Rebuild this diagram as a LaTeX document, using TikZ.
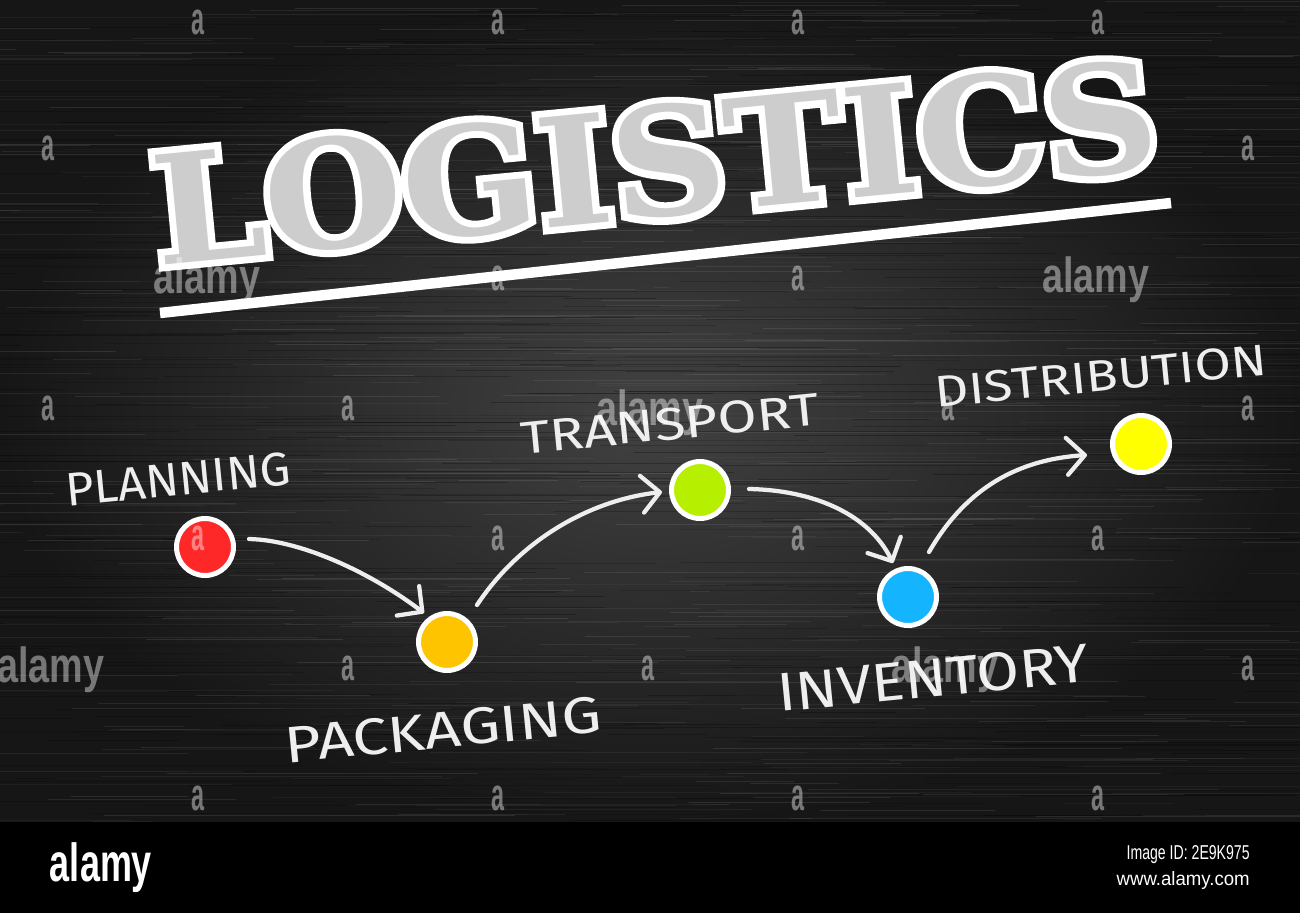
\documentclass[tikz,border=0pt]{standalone}
\usepackage{fontspec}
\usetikzlibrary{arrows.meta,calc}
\newfontfamily\titlefont{DejaVu Serif}
\newfontfamily\titlefat{DejaVu Serif}[BoldFeatures={FakeBold=9}]
\newfontfamily\chalkfont{Fira Sans}
\newfontfamily\wmfont{Liberation Sans}
\newdimen\pxu \pxu=0.02cm
\definecolor{bgin}{RGB}{66,66,66}
\definecolor{bgout}{RGB}{22,22,22}
\definecolor{chalk}{RGB}{238,238,238}
\definecolor{titlec}{RGB}{205,205,205}
\definecolor{redc}{RGB}{255,40,40}\definecolor{redd}{RGB}{170,0,0}
\definecolor{orac}{RGB}{255,196,0}\definecolor{orad}{RGB}{205,130,0}
\definecolor{grec}{RGB}{182,240,0}\definecolor{gred}{RGB}{105,150,0}
\definecolor{bluc}{RGB}{20,180,255}\definecolor{blud}{RGB}{0,95,190}
\definecolor{yelc}{RGB}{255,255,0}\definecolor{yeld}{RGB}{185,170,0}
\pgfdeclareradialshading{redball}{\pgfpoint{0bp}{0bp}}{color(0bp)=(redc); color(26bp)=(redc); color(46bp)=(redd); color(50bp)=(redd)}
\pgfdeclareradialshading{oraball}{\pgfpoint{0bp}{0bp}}{color(0bp)=(orac); color(26bp)=(orac); color(46bp)=(orad); color(50bp)=(orad)}
\pgfdeclareradialshading{greball}{\pgfpoint{0bp}{0bp}}{color(0bp)=(grec); color(26bp)=(grec); color(46bp)=(gred); color(50bp)=(gred)}
\pgfdeclareradialshading{bluball}{\pgfpoint{0bp}{0bp}}{color(0bp)=(bluc); color(26bp)=(bluc); color(46bp)=(blud); color(50bp)=(blud)}
\pgfdeclareradialshading{yelball}{\pgfpoint{0bp}{0bp}}{color(0bp)=(yelc); color(26bp)=(yelc); color(46bp)=(yeld); color(50bp)=(yeld)}
\newcommand{\chalktext}[3]{\resizebox{#1\pxu}{#2\pxu}{\chalkfont #3}}
\newcommand{\wmsmall}{\resizebox*{13\pxu}{25\pxu}{\wmfont\bfseries a}}
\newcommand{\wmbig}{\resizebox*{107\pxu}{46\pxu}{\wmfont\bfseries alamy}}
\begin{document}
\begin{tikzpicture}[x=0.02cm,y=-0.02cm,
  chalklabel/.style={text=chalk, inner sep=0pt, rotate=5.6},
  titlenode/.style={inner sep=0pt, rotate=5.5},
  dot/.style={circle, draw=white, line width=0.1cm, minimum size=1.14cm, inner sep=0pt},
  arrowline/.style={draw=chalk, line width=0.085cm, line cap=round,
     -{Straight Barb[length=0.36cm, width=0.74cm, line cap=round, line join=round]}},
  wm/.style={text=white, text opacity=0.42, inner sep=0pt}]
\useasboundingbox (0,0) rectangle (1300,913);
% background
\shade[inner color=bgin, outer color=bgout] (0,0) rectangle (1300,822);
\begin{scope}
\clip (0,0) rectangle (1300,822);
\pgfmathsetseed{4242}
\foreach \i in {1,...,500}{
  \pgfmathsetmacro\yy{rnd*822}
  \pgfmathsetmacro\xx{rnd*1400-150}
  \pgfmathsetmacro\ll{60+rnd*380}
  \pgfmathsetmacro\oo{0.03+0.07*rnd}
  \draw[white, line width=0.35pt, opacity=\oo] (\xx,\yy) -- ++(\ll,0);
}
\foreach \i in {1,...,500}{
  \pgfmathsetmacro\yy{rnd*822}
  \pgfmathsetmacro\xx{rnd*1400-150}
  \pgfmathsetmacro\ll{60+rnd*380}
  \pgfmathsetmacro\oo{0.10+0.18*rnd}
  \draw[black, line width=0.45pt, opacity=\oo] (\xx,\yy) -- ++(\ll,0);
}
\end{scope}
% bottom bar
\fill[black] (0,822) rectangle (1300,913);
% title: white emboldened copy under a grey copy gives a chalk outline
\coordinate (tc) at (655,162);
\node[titlenode, text=white] (titleout) at (tc)
  {\resizebox{1008\pxu}{112\pxu}{\titlefat\bfseries LOGISTICS}};
\node[titlenode, text=titlec] (title) at (tc)
  {\resizebox{1008\pxu}{112\pxu}{\titlefont\bfseries LOGISTICS}};
\coordinate (ulA) at (160,313);
\coordinate (ulB) at (1171,203);
\draw[white, line width=0.21cm] (ulA) -- (ulB);
% circles
\node[dot, shading=redball] (planning) at (205,547) {};
\node[dot, shading=oraball] (packaging) at (447,642) {};
\node[dot, shading=greball] (transport) at (700,490) {};
\node[dot, shading=bluball] (inventory) at (908,597) {};
\node[dot, shading=yelball] (distribution) at (1141,444) {};
% labels
\node[chalklabel] (lplan) at (178,479) {\chalktext{226}{33}{PLANNING}};
\node[chalklabel] (lpack) at (443,730) {\chalktext{318}{36}{PACKAGING}};
\node[chalklabel] (ltrans) at (670,424) {\chalktext{300}{32}{TRANSPORT}};
\node[chalklabel] (ldist) at (1101,376) {\chalktext{333}{31}{DISTRIBUTION}};
\node[chalklabel] (linv) at (933,678) {\chalktext{313}{38}{INVENTORY}};
% arrows
\coordinate (s1) at (249,539); \coordinate (t1) at (424,613);
\coordinate (s2) at (477,605); \coordinate (t2) at (662,492);
\coordinate (s3) at (749,489); \coordinate (t3) at (893,563);
\coordinate (s4) at (929,552); \coordinate (t4) at (1087,455);
\draw[arrowline] (s1) .. controls (300,540) and (370,572) .. (t1);
\draw[arrowline] (s2) .. controls (520,540) and (590,500) .. (t2);
\draw[arrowline] (s3) .. controls (810,490) and (868,512) .. (t3);
\draw[arrowline] (s4) .. controls (962,495) and (1010,460) .. (t4);
% watermark overlay
\foreach \x in {198,498,798,1098}{
  \node[wm] at (\x,22) {\wmsmall};
  \node[wm] at (\x,798) {\wmsmall};
}
\foreach \x in {48,1248}{ \node[wm] at (\x,148) {\wmsmall}; }
\foreach \x in {498,798}{ \node[wm] at (\x,278) {\wmsmall}; }
\foreach \x in {48,348,948,1248}{ \node[wm] at (\x,408) {\wmsmall}; }
\foreach \x in {198,498,798,1098}{ \node[wm] at (\x,538) {\wmsmall}; }
\foreach \x in {348,648,1248}{ \node[wm] at (\x,668) {\wmsmall}; }
\node[wm] (wm1) at (207,281) {\wmbig};
\node[wm] (wm2) at (1096,280) {\wmbig};
\node[wm] (wm3) at (650,413) {\wmbig};
\node[wm] (wm4) at (945,670) {\wmbig};
\node[wm] (wm5) at (51,670) {\wmbig};
% bottom bar text
\node[text=white, inner sep=0pt] (brand) at (101,868) {\resizebox*{102\pxu}{50\pxu}{\wmfont\bfseries alamy}};
\node[text=white, inner sep=0pt, anchor=east] (imgid) at (1250,855) {\resizebox{123\pxu}{14\pxu}{\wmfont Image ID: 2E9K975}};
\node[text=white, inner sep=0pt, anchor=east] (www) at (1250,880) {\resizebox{133\pxu}{14\pxu}{\wmfont www.alamy.com}};
\end{tikzpicture}
\end{document}
